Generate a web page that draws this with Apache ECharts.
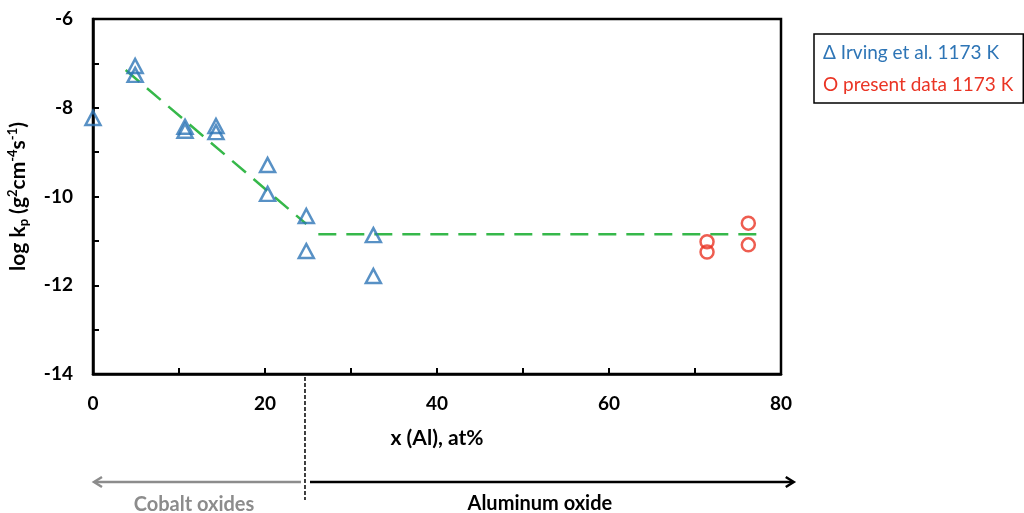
<!DOCTYPE html>
<html>
<head>
<meta charset="utf-8">
<script src="https://cdn.jsdelivr.net/npm/echarts@6/dist/echarts.min.js"></script>
<style>
  html, body { margin: 0; padding: 0; background: #fff; }
  #chart { width: 1024px; height: 513px; }
</style>
</head>
<body>
<div id="chart"></div>
<script>
// Parabolic rate constants vs. Al content
const irvingX = [0, 4.9, 4.9, 10.7, 10.7, 14.3, 14.3, 20.3, 20.3, 24.8, 24.8, 32.6, 32.6];
const irvingY = [-8.23, -7.06, -7.26, -8.43, -8.52, -8.41, -8.55, -9.29, -9.94, -10.44, -11.23, -10.87, -11.79];

const presentX = [71.4, 71.4, 76.2, 76.2];
const presentY = [-11.02, -11.25, -10.60, -11.09];

// Guide lines: falling trend and plateau
const trendX = [3.8, 24.8];
const trendY = [-7.15, -10.62];
const plateauX = [26.2, 78.1];
const plateauY = [-10.85, -10.85];

// Oxide regime boundary and arrow extents (at%)
const boundaryX = 24.65;
const cobaltEndX = 0;
const aluminumEndX = 81.6;

const seriesNames = ['Irving et al. 1173 K', 'present data 1173 K'];
const legendMarks = ['Δ', 'O'];

const BLUE = '#2e75b6';
const RED = '#ea3424';
const GREEN = '#36b84a';
const GREY = '#8c8c8c';
const FONT = 'Lato';

const zip = (xs, ys) => xs.map((x, i) => [x, ys[i]]);

const chart = echarts.init(document.getElementById('chart'));

const tickText = { color: '#000', fontFamily: FONT, fontWeight: 'bold', fontSize: 19 };
const nameText = { color: '#000', fontFamily: FONT, fontWeight: 'bold', fontSize: 21 };

chart.setOption({
  animation: false,
  textStyle: { fontFamily: FONT },
  grid: {
    left: 93, right: 243, top: 19, bottom: 139,
    outerBoundsMode: 'none', containLabel: false,
    show: true, borderColor: '#000', borderWidth: 2.5, backgroundColor: 'transparent'
  },
  legend: {
    orient: 'vertical',
    left: 814, top: 34,
    padding: [9, 10, 8, 4],
    itemGap: 12,
    itemWidth: 0, itemHeight: 0,
    icon: 'none',
    borderColor: '#000', borderWidth: 1.5,
    formatter: name => legendMarks[seriesNames.indexOf(name)] + ' ' + name,
    textStyle: { fontFamily: FONT, fontSize: 19, lineHeight: 20 },
    data: [
      { name: seriesNames[0], textStyle: { color: BLUE } },
      { name: seriesNames[1], textStyle: { color: RED } }
    ]
  },
  xAxis: {
    type: 'value', min: 0, max: 80, interval: 20,
    name: 'x (Al), at%', nameLocation: 'middle', nameGap: 54,
    nameTextStyle: nameText,
    axisLine: { lineStyle: { color: '#000', width: 2.5 } },
    axisTick: { inside: true, length: 6, lineStyle: { color: '#000', width: 2 } },
    minorTick: { show: true, splitNumber: 2, length: 6, lineStyle: { color: '#000', width: 2 } },
    splitLine: { show: false },
    axisLabel: Object.assign({ margin: 20 }, tickText)
  },
  yAxis: {
    type: 'value', min: -14, max: -6, interval: 2,
    name: '{n|log k}{sub|p}{n| (g}{sup|2}{n|cm}{sup|-4}{n|s}{sup|-1}{n|)}',
    nameLocation: 'middle', nameGap: 47, nameRotate: 90,
    nameTextStyle: {
      rich: {
        n: { fontFamily: FONT, fontWeight: 'bold', fontSize: 21, color: '#000', lineHeight: 30, verticalAlign: 'middle' },
        sub: { fontFamily: FONT, fontWeight: 'bold', fontSize: 13, color: '#000', lineHeight: 30, verticalAlign: 'bottom', padding: [0, 0, 3, 0] },
        sup: { fontFamily: FONT, fontWeight: 'bold', fontSize: 13, color: '#000', lineHeight: 30, verticalAlign: 'top', padding: [3, 0, 0, 0] }
      }
    },
    axisLine: { onZero: false, lineStyle: { color: '#000', width: 2.5 } },
    axisTick: { inside: true, length: 6, lineStyle: { color: '#000', width: 2 } },
    minorTick: { show: true, splitNumber: 2, length: 6, lineStyle: { color: '#000', width: 2 } },
    splitLine: { show: false },
    axisLabel: Object.assign({ margin: 20 }, tickText)
  },
  series: [
    {
      name: 'trend', type: 'line', data: zip(trendX, trendY),
      symbol: 'none', silent: true,
      lineStyle: { color: GREEN, width: 2.5, type: [18, 10] }, z: 1
    },
    {
      name: 'plateau', type: 'line', data: zip(plateauX, plateauY),
      symbol: 'none', silent: true,
      lineStyle: { color: GREEN, width: 2.5, type: [18, 10] }, z: 1
    },
    {
      name: seriesNames[0], type: 'scatter', data: zip(irvingX, irvingY),
      symbol: 'triangle', symbolSize: [15, 14],
      itemStyle: { color: 'rgba(255,255,255,0)', borderColor: BLUE, borderWidth: 2.5 }, z: 3
    },
    {
      name: seriesNames[1], type: 'scatter', data: zip(presentX, presentY),
      symbol: 'circle', symbolSize: 13,
      itemStyle: { color: 'rgba(255,255,255,0)', borderColor: RED, borderWidth: 2.5 }, z: 3
    }
  ]
});

// Regime annotations below the axis, placed through the x scale
const px = v => chart.convertToPixel({ xAxisIndex: 0 }, v);
const bx = px(boundaryX);
const cx = px(cobaltEndX);
const ax = px(aluminumEndX);
const arrowY = 482;

chart.setOption({
  graphic: [
    {
      type: 'line', shape: { x1: bx, y1: 377, x2: bx, y2: 500 },
      style: { stroke: '#000', lineWidth: 1.5, lineDash: [4, 2] }
    },
    {
      type: 'line', shape: { x1: bx - 4, y1: arrowY, x2: cx + 2, y2: arrowY },
      style: { stroke: GREY, lineWidth: 2.5 }
    },
    {
      type: 'polyline', shape: { points: [[cx + 9, arrowY - 5], [cx + 1, arrowY], [cx + 9, arrowY + 5]] },
      style: { stroke: GREY, lineWidth: 2.5, fill: null }
    },
    {
      type: 'line', shape: { x1: bx + 5, y1: arrowY, x2: ax - 2, y2: arrowY },
      style: { stroke: '#000', lineWidth: 2.5 }
    },
    {
      type: 'polyline', shape: { points: [[ax - 9, arrowY - 5], [ax - 1, arrowY], [ax - 9, arrowY + 5]] },
      style: { stroke: '#000', lineWidth: 2.5, fill: null }
    },
    {
      type: 'text', x: (cx + bx) / 2 - 5, y: 505,
      style: { text: 'Cobalt oxides', fill: GREY, font: 'bold 20px ' + FONT, align: 'center', verticalAlign: 'middle' }
    },
    {
      type: 'text', x: (bx + ax) / 2 - 10, y: 504,
      style: { text: 'Aluminum oxide', fill: '#000', font: 'bold 20px ' + FONT, align: 'center', verticalAlign: 'middle' }
    }
  ]
});
</script>
</body>
</html>
